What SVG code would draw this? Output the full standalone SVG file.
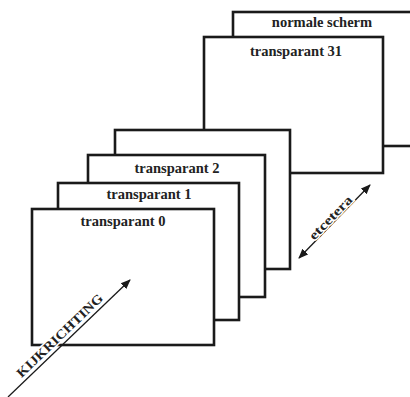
<svg xmlns="http://www.w3.org/2000/svg" width="410" height="397" viewBox="0 0 410 397">
<style>
.sheet{fill:#fff;stroke:#1a1a1a;stroke-width:2.6}
.lbl{font-family:"Liberation Serif",serif;font-weight:bold;font-size:14.5px;fill:#222;text-anchor:middle}
.arr{stroke:#1a1a1a;stroke-width:1.3;fill:none}
.side{font-family:"Liberation Serif",serif;font-weight:bold;fill:#222;text-anchor:middle;stroke:#fff;stroke-width:3;paint-order:stroke}
</style>
<defs>
<marker id="ah" viewBox="0 0 10 10" refX="9" refY="5" markerWidth="10" markerHeight="10" markerUnits="userSpaceOnUse" orient="auto-start-reverse">
<path d="M0,1 L10,5 L0,9 Z" fill="#1a1a1a"/>
</marker>
</defs>
<rect width="410" height="397" fill="#fff"/>
<g id="normale-scherm"><rect class="sheet" x="233" y="12" width="180" height="134"/><text class="lbl" x="322" y="27">normale scherm</text></g>
<g id="transparant-31"><rect class="sheet" x="204" y="37" width="179" height="136"/><text class="lbl" x="296" y="56">transparant 31</text></g>
<g id="transparant-3"><rect class="sheet" x="115" y="130" width="175" height="139"/></g>
<g id="transparant-2"><rect class="sheet" x="88" y="155" width="177" height="142"/><text class="lbl" x="177" y="173">transparant 2</text></g>
<g id="transparant-1"><rect class="sheet" x="58" y="183" width="181" height="137"/><text class="lbl" x="149" y="199">transparant 1</text></g>
<g id="transparant-0"><rect class="sheet" x="32" y="209" width="182" height="136"/><text class="lbl" x="123" y="226">transparant 0</text></g>
<g id="connectors">
<line class="arr" x1="8" y1="397" x2="130" y2="280" marker-end="url(#ah)"/>
<line class="arr" x1="299" y1="258" x2="370" y2="185" marker-start="url(#ah)" marker-end="url(#ah)"/>
<text class="side" font-size="13" transform="translate(62,338) rotate(-43.8)" x="0" y="1" textLength="114" lengthAdjust="spacingAndGlyphs">KIJKRICHTING</text>
<text class="side" font-size="13" transform="translate(333,220) rotate(-46)" x="0" y="1" textLength="56" lengthAdjust="spacingAndGlyphs">etcetera</text>
</g>
</svg>
